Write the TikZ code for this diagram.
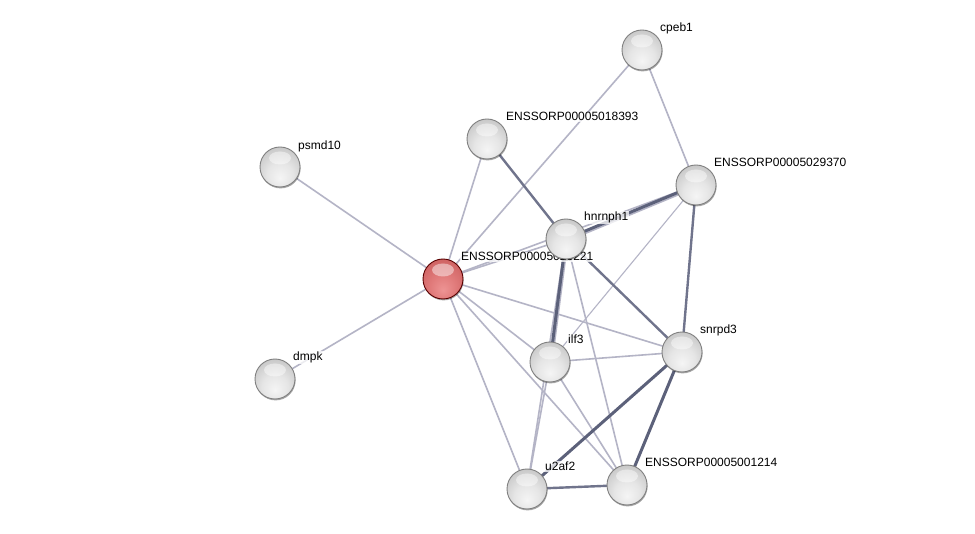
\documentclass[tikz,border=0pt]{standalone}
\usepackage{fontspec}
\setmainfont{Liberation Sans}
\usetikzlibrary{shadows}
\pgfdeclarelayer{bg}
\pgfdeclarelayer{edges}
\pgfdeclarelayer{labels}
\pgfsetlayers{bg,edges,labels,main}
\pgfdeclareradialshading{gsphere}{\pgfpoint{0bp}{-14bp}}{%
  rgb(0bp)=(0.96,0.96,0.96); rgb(16bp)=(0.9,0.9,0.9); rgb(30bp)=(0.8,0.8,0.8); rgb(42bp)=(0.72,0.72,0.72); rgb(54bp)=(0.58,0.58,0.58); rgb(64bp)=(0.5,0.5,0.5)}
\pgfdeclareradialshading{rsphere}{\pgfpoint{0bp}{-14bp}}{%
  rgb(0bp)=(0.93,0.58,0.58); rgb(16bp)=(0.88,0.48,0.48); rgb(30bp)=(0.82,0.4,0.4); rgb(42bp)=(0.76,0.34,0.34); rgb(54bp)=(0.62,0.22,0.22); rgb(64bp)=(0.5,0.15,0.15)}
\definecolor{elight}{RGB}{180,180,198}
\definecolor{emid}{RGB}{112,116,140}
\definecolor{edark}{RGB}{92,97,122}
\tikzset{
  prot/.style={circle, minimum size=40pt, inner sep=0pt, draw=black!50, line width=0.9pt,
    shading=gsphere, drop shadow={shadow xshift=0.6pt, shadow yshift=-1.4pt, opacity=0.35, fill=black}},
  protred/.style={prot, shading=rsphere, draw=red!35!black},
  lab/.style={anchor=base west, inner sep=1pt, fill=white, fill opacity=0.75, text opacity=1,
    font=\fontsize{12}{14}\selectfont},
  light/.style={draw=elight, line width=1.6pt},
  thin/.style={draw=elight, line width=1.1pt},
  mid/.style={draw=emid, line width=2.4pt},
  dark/.style={draw=edark, line width=3pt},
}
\newcommand{\shine}[1]{\fill[white,opacity=0.45] ([yshift=9pt]#1.center) ellipse (11pt and 6.5pt);}
\begin{document}
\begin{tikzpicture}[x=1pt,y=-1pt]
\begin{pgfonlayer}{bg}
\path[use as bounding box, fill=white] (0,0) rectangle (975,534);
\end{pgfonlayer}
% nodes
\node[prot] (cpeb1) at (642,50) {};
\node[prot] (n18393) at (487,139) {};
\node[prot] (psmd10) at (280,167) {};
\node[prot] (n29370) at (696,185) {};
\node[prot] (hnrnph1) at (566,239) {};
\node[protred] (center) at (443,279) {};
\node[prot] (ilf3) at (550,362) {};
\node[prot] (snrpd3) at (682,352) {};
\node[prot] (dmpk) at (275,379) {};
\node[prot] (u2af2) at (527,489) {};
\node[prot] (n1214) at (627,485) {};
\foreach \n in {cpeb1,n18393,psmd10,n29370,hnrnph1,center,ilf3,snrpd3,dmpk,u2af2,n1214}{\shine{\n}}
% labels
\begin{pgfonlayer}{labels}
\node[lab] (cpeb1-l) at (659,32) {cpeb1};
\node[lab] (n18393-l) at (505,121) {ENSSORP00005018393};
\node[lab] (psmd10-l) at (297,150) {psmd10};
\node[lab] (n29370-l) at (713,167) {ENSSORP00005029370};
\node[lab] (hnrnph1-l) at (583,221) {hnrnph1};
\node[lab] (center-l) at (460,261) {ENSSORP00005020221};
\node[lab] (ilf3-l) at (567,344) {ilf3};
\node[lab] (snrpd3-l) at (699,334) {snrpd3};
\node[lab] (dmpk-l) at (292,361) {dmpk};
\node[lab] (u2af2-l) at (544,471) {u2af2};
\node[lab] (n1214-l) at (644,467) {ENSSORP00005001214};
\end{pgfonlayer}
% edges
\begin{pgfonlayer}{edges}
\draw[light] (center.center) -- (psmd10.center);
\draw[light] (center.center) -- (dmpk.center);
\draw[light] (center.center) -- (n18393.center);
\draw[light] (center.center) -- (cpeb1.center);
\draw[light] (center.center) -- (hnrnph1.center);
\draw[light] (center.center) -- (n29370.center);
\draw[light] (center.center) -- (snrpd3.center);
\draw[light] (center.center) -- (ilf3.center);
\draw[light] (center.center) -- (u2af2.center);
\draw[light] (center.center) -- (n1214.center);
\draw[light] (cpeb1.center) -- (n29370.center);
\draw[thin] (n29370.center) -- (ilf3.center);
\draw[light] (hnrnph1.center) -- (n1214.center);
\draw[light] (hnrnph1.center) -- (u2af2.center);
\draw[light] (ilf3.center) -- (u2af2.center);
\draw[light] (ilf3.center) -- (n1214.center);
\draw[light] (ilf3.center) -- (snrpd3.center);
\draw[mid] (n18393.center) -- (hnrnph1.center);
\draw[mid] (hnrnph1.center) -- (snrpd3.center);
\draw[mid] (n29370.center) -- (snrpd3.center);
\draw[mid] (u2af2.center) -- (n1214.center);
\draw[light, transform canvas={xshift=1pt, yshift=-2pt}] (hnrnph1.center) -- (n29370.center);
\draw[dark] (hnrnph1.center) -- (n29370.center);
\draw[light, transform canvas={xshift=2pt}] (hnrnph1.center) -- (ilf3.center);
\draw[dark] (hnrnph1.center) -- (ilf3.center);
\draw[dark] (snrpd3.center) -- (u2af2.center);
\draw[dark] (snrpd3.center) -- (n1214.center);
\end{pgfonlayer}
\end{tikzpicture}
\end{document}
